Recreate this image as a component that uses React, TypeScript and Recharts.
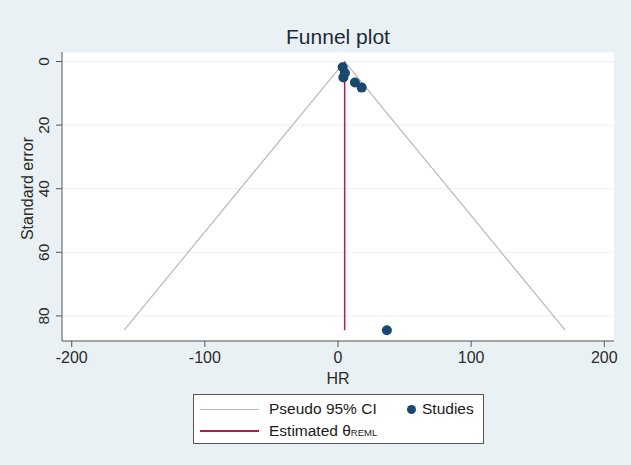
import { CartesianGrid, Label, Scatter, ScatterChart, XAxis, YAxis } from "recharts";

const BG = "#eaf1f4";
const NAVY = "#1a476f";
const CRIMSON = "#b01f45";
const CI_GREY = "#b9b9b9";
const FONT = "'Liberation Sans', Arial, sans-serif";

// study estimates: HR vs standard error
const studies = [
  { x: 3.5, y: 1.8 },
  { x: 5.2, y: 3.6 },
  { x: 4.0, y: 5.0 },
  { x: 12.7, y: 6.6 },
  { x: 17.8, y: 8.2 },
  { x: 36.7, y: 84.5 },
];

// pseudo 95% CI boundaries (apex at the pooled estimate)
const ciLeft = [
  { x: 5, y: 0 },
  { x: -160.6, y: 84.5 },
];
const ciRight = [
  { x: 5, y: 0 },
  { x: 170.6, y: 84.5 },
];

// estimated theta (REML)
const thetaLine = [
  { x: 5, y: 0 },
  { x: 5, y: 84.5 },
];

const xTicks = [-200, -100, 0, 100, 200];
const yTicks = [0, 20, 40, 60, 80];

const noDot = () => <g />;

// stata draws y tick labels turned on their side
function YTick(props: any) {
  const { x, y, payload } = props;
  // x is where recharts would start the label (axis - tick - margin)
  const bx = x - 5;
  return (
    <g transform={`translate(${bx},${y}) rotate(-90)`}>
      <text x={0} y={0} textAnchor="middle" fill="#2b2b2b" fontSize={15.5} fontFamily={FONT}>
        {payload.value}
      </text>
    </g>
  );
}

export default function App() {
  return (
    <div
      style={{
        position: "fixed",
        left: 0,
        top: 0,
        width: 631,
        height: 465,
        background: BG,
        fontFamily: FONT,
      }}
    >
      <div
        style={{
          position: "absolute",
          left: 62,
          width: 552,
          top: 24,
          textAlign: "center",
          fontSize: 21,
          color: "#1c2b39",
          lineHeight: "26px",
        }}
      >
        Funnel plot
      </div>
      <div style={{ position: "absolute", left: 62, top: 52, width: 552, height: 289, background: "#fff" }} />
      <ScatterChart
        width={631}
        height={465}
        margin={{ top: 52, right: 17, bottom: 79, left: 0 }}
        style={{ position: "absolute", left: 0, top: 0 }}
      >
        <CartesianGrid vertical={false} stroke="#edf2f4" />
        <XAxis
          type="number"
          dataKey="x"
          domain={[-207.3, 207.3]}
          ticks={xTicks}
          allowDataOverflow
          height={45}
          tickSize={6}
          tickMargin={5}
          stroke="#555"
          tick={{ fill: "#2b2b2b", fontSize: 16, fontFamily: FONT }}
        >
          <Label value="HR" position="insideBottom" offset={2} fill="#2b2b2b" fontSize={16} fontFamily={FONT} />
        </XAxis>
        <YAxis
          type="number"
          dataKey="y"
          reversed
          domain={[-3, 87.9]}
          ticks={yTicks}
          allowDataOverflow
          width={62}
          tickSize={6}
          tickMargin={2}
          stroke="#555"
          tick={<YTick />}
        >
          <Label
            value="Standard error"
            position="insideLeft"
            content={(p: any) => {
              const vb = p.viewBox;
              const cx = 33;
              const cy = vb.y + vb.height / 2 - 8;
              return (
                <text
                  x={cx}
                  y={cy}
                  transform={`rotate(-90 ${cx} ${cy})`}
                  textAnchor="middle"
                  fill="#2b2b2b"
                  fontSize={16}
                  fontFamily={FONT}
                >
                  Standard error
                </text>
              );
            }}
          />
        </YAxis>
        <Scatter data={ciLeft} line={{ stroke: CI_GREY, strokeWidth: 1.2 }} shape={noDot} isAnimationActive={false} />
        <Scatter data={ciRight} line={{ stroke: CI_GREY, strokeWidth: 1.2 }} shape={noDot} isAnimationActive={false} />
        <Scatter data={thetaLine} line={{ stroke: CRIMSON, strokeWidth: 1.5 }} shape={noDot} isAnimationActive={false} />
        <Scatter
          data={studies}
          fill={NAVY}
          isAnimationActive={false}
          shape={(p: any) => <circle cx={p.cx} cy={p.cy} r={5} fill={NAVY} />}
        />
      </ScatterChart>
      <div
        style={{
          position: "absolute",
          left: 193,
          top: 394,
          width: 289,
          height: 48,
          background: "#fff",
          border: "1px solid #555",
          fontSize: 15.5,
          color: "#1a1a1a",
        }}
      >
        <div style={{ position: "absolute", left: 6, top: 14, width: 59, height: 1, background: CI_GREY }} />
        <div style={{ position: "absolute", left: 75, top: 4, lineHeight: "19px" }}>Pseudo 95% CI</div>
        <div
          style={{ position: "absolute", left: 213, top: 10, width: 9, height: 9, borderRadius: "50%", background: NAVY }}
        />
        <div style={{ position: "absolute", left: 228, top: 4, lineHeight: "19px" }}>Studies</div>
        <div style={{ position: "absolute", left: 6, top: 35, width: 59, height: 1.5, background: CRIMSON }} />
        <div style={{ position: "absolute", left: 75, top: 26, lineHeight: "19px" }}>
          Estimated θ<span style={{ fontSize: 9.5 }}>REML</span>
        </div>
      </div>
    </div>
  );
}
